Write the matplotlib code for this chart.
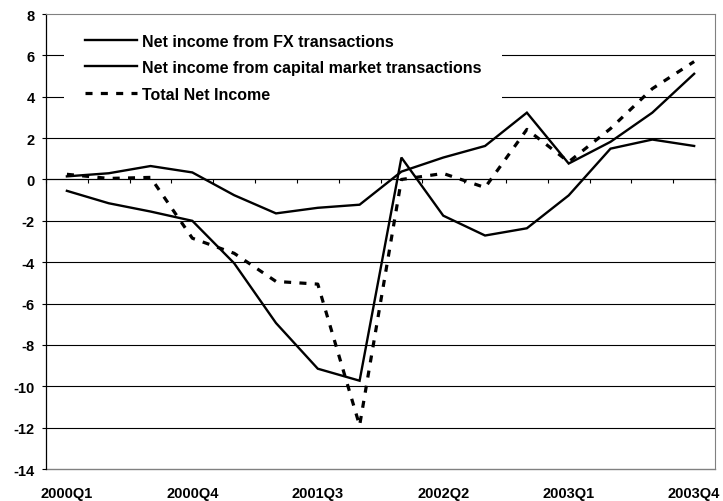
import matplotlib
matplotlib.use('Agg')
import matplotlib.pyplot as plt
from matplotlib.lines import Line2D
import numpy as np

quarters = ['2000Q1', '2000Q2', '2000Q3', '2000Q4',
            '2001Q1', '2001Q2', '2001Q3', '2001Q4',
            '2002Q1', '2002Q2', '2002Q3', '2002Q4',
            '2003Q1', '2003Q2', '2003Q3', '2003Q4']
fx_income = [0.15, 0.3, 0.65, 0.34, -0.76, -1.64, -1.37, -1.22,
             0.38, 1.06, 1.62, 3.23, 0.77, 1.82, 3.23, 5.11]
cm_income = [-0.55, -1.15, -1.55, -2.0, -4.05, -6.94, -9.15, -9.73,
             1.06, -1.75, -2.71, -2.36, -0.77, 1.49, 1.93, 1.62]
total_income = [0.25, 0.05, 0.1, -2.84, -3.57, -4.93, -5.06, -11.9,
                0.0, 0.29, -0.39, 2.42, 0.85, 2.46, 4.39, 5.7]
series_labels = ['Net income from FX transactions',
                 'Net income from capital market transactions',
                 'Total Net Income']
label_every = 3
y_ticks = list(range(-14, 9, 2))

plt.rcParams['font.family'] = ['Liberation Sans', 'DejaVu Sans']
plt.rcParams['font.weight'] = 'bold'

fig = plt.figure(figsize=(7.23, 5.02), dpi=100)
ax = fig.add_axes([0.0636, 0.0637, 0.9254, 0.9064])

x = np.arange(len(quarters))
ax.set_xlim(-0.5, len(quarters) - 0.5)
ax.set_ylim(-14, 8)

for yv in y_ticks[1:-1]:
    if yv != 0:
        ax.axhline(yv, color='black', lw=0.8, zorder=1)

ax.plot(x, fx_income, color='black', lw=1.7, zorder=3, solid_joinstyle='miter')
ax.plot(x, cm_income, color='black', lw=1.7, zorder=3, solid_joinstyle='miter')
ax.plot(x, total_income, color='black', lw=2.3, zorder=3,
        linestyle=(0, (2.2, 2.6)))

# axis line at zero with category boundary ticks
ax.spines['bottom'].set_position(('data', 0))
ax.spines['bottom'].set_color('black')
ax.spines['bottom'].set_linewidth(0.9)
ax.set_xticks(np.arange(-0.5, len(quarters), 1.0))
ax.tick_params(axis='x', direction='out', length=3.2, width=0.8,
               labelbottom=False)

sec = ax.secondary_xaxis('bottom')
sec.spines['bottom'].set_color('#808080')
sec.spines['bottom'].set_linewidth(1.0)
sec.set_xticks(x[::label_every], [quarters[i] for i in x[::label_every]])
sec.tick_params(axis='x', length=0, pad=12, labelsize=10.5)
for t in sec.get_xticklabels():
    t.set_fontweight('bold')

ax.spines['top'].set_color('#808080')
ax.spines['right'].set_color('#808080')
ax.spines['left'].set_color('black')
ax.spines['left'].set_linewidth(0.9)
ax.set_yticks(y_ticks)
ax.set_yticklabels([str(v) for v in y_ticks], fontweight='bold')
ax.tick_params(axis='y', direction='out', length=3.2, width=0.8,
               pad=5, labelsize=10.5)

handles = [Line2D([], [], color='black', lw=1.7),
           Line2D([], [], color='black', lw=1.7),
           Line2D([], [], color='black', lw=2.3, linestyle=(0, (2.2, 2.6)))]
leg = ax.legend(handles, series_labels, loc='upper left',
                bbox_to_anchor=(0.027, 1.003), borderaxespad=0,
                frameon=True, fancybox=False,
                edgecolor='none', facecolor='white', framealpha=1,
                prop={'weight': 'bold', 'size': 11.5},
                handlelength=3.25, handletextpad=0.31, labelspacing=0.72,
                borderpad=1.31)
leg.set_zorder(2.4)

fig.savefig('out.png', dpi=100)
